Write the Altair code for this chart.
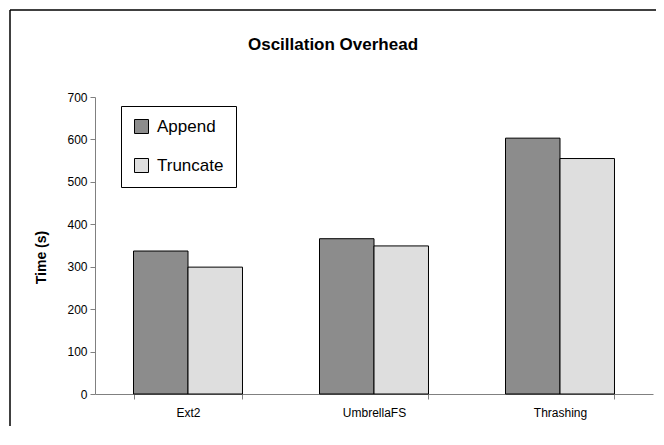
import altair as alt
import pandas as pd

categories = ["Ext2", "UmbrellaFS", "Thrashing"]
series = ["Append", "Truncate"]
append_vals = [337, 366, 603]
truncate_vals = [299, 349, 555]
y_ticks = [0, 100, 200, 300, 400, 500, 600, 700]
title_text = "Oscillation Overhead"
y_title = "Time (s)"

rows = []
for c, a, t in zip(categories, append_vals, truncate_vals):
    rows.append({"cat": c, "series": "Append", "value": a})
    rows.append({"cat": c, "series": "Truncate", "value": t})
df = pd.DataFrame(rows)
one = pd.DataFrame({"t": [title_text]})

FONT = "Liberation Sans"
W, H = 558, 297

bars = alt.Chart(df).mark_bar(stroke="black", strokeWidth=1).encode(
    x=alt.X("cat:N", sort=categories, title=None,
            scale=alt.Scale(paddingInner=0.414, paddingOuter=0.207),
            axis=alt.Axis(labelAngle=0, tickBand="extent", labelFontSize=12,
                          labelFont=FONT, labelColor="black", labelPadding=8,
                          domainColor="#808080", tickColor="#808080",
                          tickSize=5, grid=False)),
    xOffset=alt.XOffset("series:N", sort=series, scale=alt.Scale(paddingInner=0, paddingOuter=0)),
    y=alt.Y("value:Q", scale=alt.Scale(domain=[0, 700], nice=False),
            axis=alt.Axis(values=y_ticks, title=y_title, titleFont=FONT,
                          titleFontSize=14, titleFontWeight="bold", titleColor="black",
                          titleAngle=270, titleX=-54, titleY=160, titleAlign="center",
                          titleBaseline="middle",
                          labelFontSize=12, labelFont=FONT, labelColor="black",
                          labelPadding=3, domainColor="#808080", tickColor="#808080",
                          tickSize=5, grid=False)),
    color=alt.Color("series:N", sort=series, title=None,
                    scale=alt.Scale(domain=series, range=["#8c8c8c", "#dedede"]),
                    legend=alt.Legend(orient="none", legendX=26, legendY=9,
                                      strokeColor="black", padding=12,
                                      fillColor="white",
                                      labelFont=FONT, labelFontSize=17,
                                      labelColor="black", labelOffset=7,
                                      symbolType="square", symbolSize=196,
                                      symbolStrokeColor="black",
                                      symbolStrokeWidth=1, rowPadding=20)),
)

title = alt.Chart(one).mark_text(font=FONT, fontSize=17, fontWeight="bold",
                                 color="black", align="center",
                                 baseline="middle").encode(
    x=alt.value(238), y=alt.value(-52), text="t:N")

frame_left = alt.Chart(one).mark_rule(stroke="black", strokeWidth=1.5).encode(
    x=alt.value(-85), y=alt.value(-87), y2=alt.value(H + 40))
frame_top = alt.Chart(one).mark_rule(stroke="black", strokeWidth=1.5).encode(
    x=alt.value(-85), x2=alt.value(W + 3), y=alt.value(-87))

chart = alt.layer(frame_left, frame_top, bars, title).properties(
    width=W, height=H,
    autosize=alt.AutoSizeParams(type="none"),
    padding={"left": 87, "top": 89, "right": 3, "bottom": 32},
).configure_view(strokeWidth=0)

chart.save("out.html", embed_options={"renderer": "svg", "actions": False})
